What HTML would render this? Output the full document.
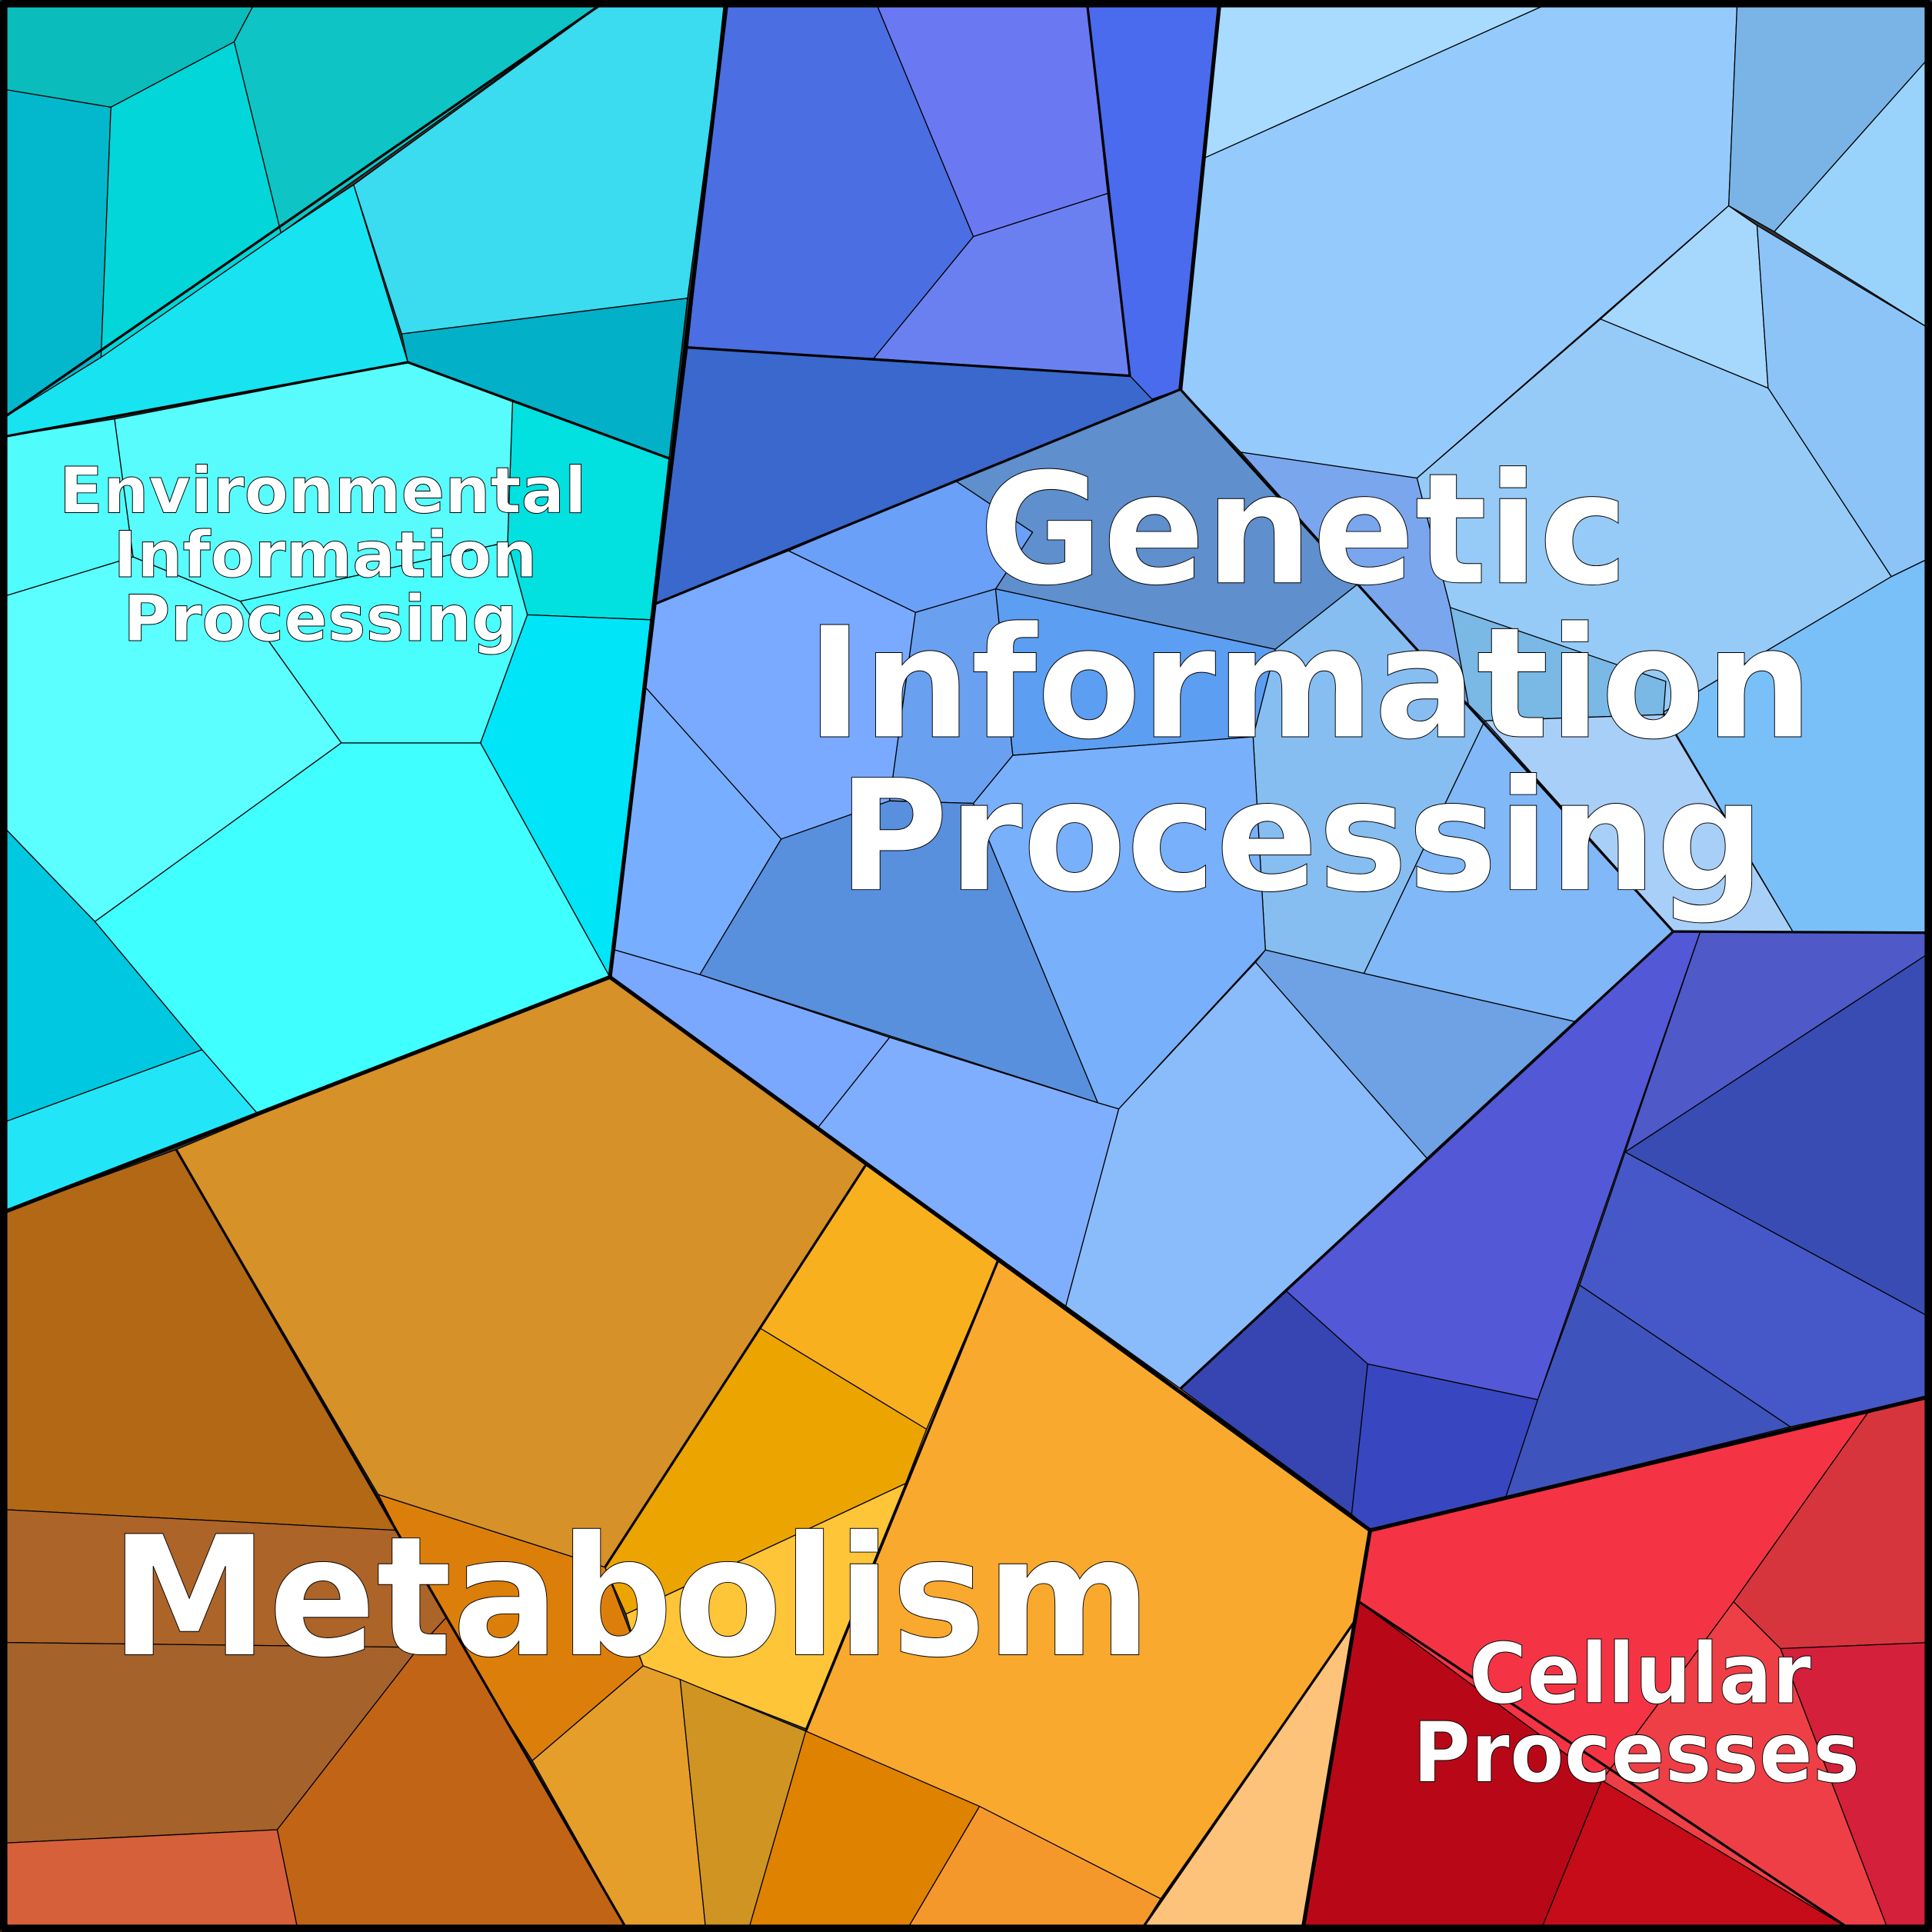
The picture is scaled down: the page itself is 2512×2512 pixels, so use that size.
<!DOCTYPE html>
<html><head><meta charset="utf-8"><style>html,body{margin:0;padding:0;background:#fff}svg{display:block}</style></head><body>
<svg xmlns="http://www.w3.org/2000/svg" width="2512" height="2512" viewBox="0 0 1568 1568">
<rect x="0" y="0" width="1568" height="1568" fill="#333"/>
<g stroke="#000" stroke-width="0.8" stroke-linejoin="round">
<!-- Environmental -->
<polygon fill="#0bbcbc" points="0,0 208,0 190,34 90,87 0,72"/>
<polygon fill="#0fc4c4" points="208,0 493,0 228,189 190,34"/>
<polygon fill="#03b8cc" points="0,72 90,87 82,290 0,341"/>
<polygon fill="#02d6d8" points="90,87 190,34 228,189 82,290"/>
<polygon fill="#3bdbf0" points="493,0 590,0 558,242 326,271 287,150"/>
<polygon fill="#18e3f0" points="0,341 82,290 228,189 287,150 331,294 0,355"/>
<polygon fill="#02b0c8" points="326,271 558,242 543,372 416,326 331,294"/>
<polygon fill="#02e0e0" points="416,326 543,372 528,503 428,499 412,440"/>
<polygon fill="#50fcfc" points="0,355 93,340 108,452 0,485"/>
<polygon fill="#58fcfc" points="93,340 331,294 416,326 412,440 195,488 108,452"/>
<polygon fill="#4afefe" points="195,488 412,440 428,499 390,603 277,603"/>
<polygon fill="#5cffff" points="0,485 108,452 195,488 277,603 77,748 0,668"/>
<polygon fill="#40ffff" points="277,603 390,603 495,793 210,905 164,852 77,748"/>
<polygon fill="#00e5f8" points="428,499 528,503 495,793 390,603"/>
<polygon fill="#00c8e0" points="0,668 77,748 164,852 0,912"/>
<polygon fill="#22e6f8" points="0,912 164,852 210,905 0,985"/>
<!-- Genetic top -->
<polygon fill="#4b6ee2" points="588,0 710,0 790,192 709,291 558,282"/>
<polygon fill="#6a78f2" points="710,0 882,0 899,157 790,192"/>
<polygon fill="#6b80f0" points="790,192 899,157 917,305 709,291"/>
<polygon fill="#4a6bee" points="882,0 990,0 958,316 935,324 917,305"/>
<polygon fill="#3a68cc" points="558,282 917,305 935,324 958,316 532,490"/>
<polygon fill="#a8dbff" points="990,0 1263,0 978,128"/>
<polygon fill="#94cbfc" points="978,128 1263,0 1410,0 1403,167 1150,388 1007,367 958,316"/>
<polygon fill="#7ab4e6" points="1410,0 1568,0 1568,44 1440,188 1403,167"/>
<polygon fill="#99d3fc" points="1568,44 1568,268 1440,188"/>
<polygon fill="#a6d7fc" points="1403,167 1426,183 1435,315 1299,259"/>
<polygon fill="#8cc4f8" points="1426,183 1568,268 1568,452 1535,468 1435,315"/>
<polygon fill="#96cbf8" points="1150,388 1299,259 1435,315 1535,468 1350,578 1177,493"/>
<polygon fill="#7ac0f8" points="1535,468 1568,452 1568,757 1455,756 1350,578"/>
<polygon fill="#5f8fcc" points="775,390 958,316 1102,474 1035,527 808,478 838,432"/>
<polygon fill="#7aa6ee" points="1007,367 1150,388 1177,493 1193,578 1180,560 1102,474"/>
<polygon fill="#7ab8e6" points="1177,493 1352,553 1350,580 1205,585 1193,578"/>
<polygon fill="#a8cff8" points="1205,585 1350,580 1455,756 1358,756"/>
<polygon fill="#7aaaff" points="532,490 640,447 743,497 722,650 634,681 524,558"/>
<polygon fill="#6aa0f8" points="640,447 775,390 838,432 808,478 743,497"/>
<polygon fill="#6aa0f0" points="743,497 808,478 822,613 790,652 722,650"/>
<polygon fill="#5c9ef2" points="808,478 1035,527 1017,598 822,613"/>
<polygon fill="#86bef2" points="1035,527 1102,474 1180,560 1205,585 1107,790 1027,771 1017,598"/>
<polygon fill="#78aeff" points="524,558 634,681 568,791 499,771"/>
<polygon fill="#5890dd" points="634,681 722,650 790,652 891,895 568,791"/>
<polygon fill="#78b0fc" points="790,652 822,613 1017,598 1027,771 908,900 891,895"/>
<polygon fill="#6ea2e4" points="1027,771 1107,790 1278,829 1158,940 1019,781"/>
<polygon fill="#80b8f8" points="1107,790 1205,585 1358,756 1278,829"/>
<polygon fill="#7aa8ff" points="499,771 568,791 722,842 664,915 495,793"/>
<polygon fill="#80aefe" points="722,842 891,895 908,900 865,1060 664,915"/>
<polygon fill="#8abbfb" points="908,900 1019,781 1158,940 958,1127 865,1060"/>
<!-- dark blue -->
<polygon fill="#5358d6" points="1358,756 1380,756 1248,1136 1110,1107 1043,1047"/>
<polygon fill="#4f5ac8" points="1380,756 1568,757 1568,772 1319,935"/>
<polygon fill="#394cb4" points="1568,772 1568,1070 1319,935"/>
<polygon fill="#4658c8" points="1319,935 1568,1070 1568,1133 1453,1158 1282,1043"/>
<polygon fill="#3f53bc" points="1282,1043 1453,1158 1222,1215 1248,1136"/>
<polygon fill="#3645b2" points="1043,1047 1110,1107 1097,1229 958,1127"/>
<polygon fill="#3847c0" points="1110,1107 1248,1136 1222,1215 1112,1242 1097,1229"/>
<!-- Metabolism -->
<polygon fill="#b26815" points="0,985 143,933 322,1242 0,1225"/>
<polygon fill="#d69128" points="143,933 210,905 495,793 703,945 617,1078 491,1272 307,1213"/>
<polygon fill="#f8b01e" points="703,945 810,1023 752,1160 617,1078"/>
<polygon fill="#eca400" points="617,1078 752,1160 735,1204 508,1310 491,1272"/>
<polygon fill="#f9a92e" points="810,1023 958,1127 1112,1242 1100,1315 942,1541 654,1405 735,1204 752,1160"/>
<polygon fill="#fec538" points="508,1310 735,1204 654,1403 522,1352 514,1330"/>
<polygon fill="#dc7f0a" points="307,1213 491,1272 522,1352 432,1429 360,1315"/>
<polygon fill="#ad6428" points="0,1225 322,1242 362,1313 340,1337 0,1333"/>
<polygon fill="#a5622a" points="0,1333 340,1337 225,1485 0,1496"/>
<polygon fill="#c26416" points="340,1337 362,1313 510,1568 242,1568 225,1485"/>
<polygon fill="#d6603a" points="0,1496 225,1485 242,1568 0,1568"/>
<polygon fill="#e59e2a" points="432,1429 522,1352 552,1363 573,1568 510,1568"/>
<polygon fill="#cf9422" points="552,1363 654,1405 607,1568 573,1568"/>
<polygon fill="#df8200" points="654,1405 795,1466 735,1568 607,1568"/>
<polygon fill="#f4982c" points="795,1466 942,1541 925,1568 735,1568"/>
<polygon fill="#fdc37a" points="1100,1315 1057,1568 925,1568"/>
<!-- Cellular -->
<polygon fill="#f43444" points="1112,1242 1517,1145 1407,1300 1331,1403 1300,1445 1103,1300"/>
<polygon fill="#d7353e" points="1517,1145 1568,1133 1568,1333 1445,1338 1407,1300"/>
<polygon fill="#d4203a" points="1445,1338 1568,1333 1568,1568 1533,1568"/>
<polygon fill="#ee3f46" points="1407,1300 1445,1338 1533,1568 1505,1568 1300,1445 1331,1403"/>
<polygon fill="#b80818" points="1103,1300 1300,1445 1250,1568 1057,1568"/>
<polygon fill="#c50c18" points="1300,1445 1505,1568 1250,1568"/>
</g>
<g fill="none" stroke="#000" stroke-linejoin="round">
<polyline stroke-width="2" points="0,341 493,0"/>
<polyline stroke-width="2" points="0,355 331,294 543,372"/>
<polyline stroke-width="2" points="558,282 917,305 882,0"/>
<polyline stroke-width="2" points="532,490 958,316 1358,756 958,1127"/>
<polyline stroke-width="2" points="1358,756 1568,757"/>
<polyline stroke-width="2" points="143,933 510,1568"/>
<polyline stroke-width="2" points="703,945 491,1272"/>
<polyline stroke-width="2" points="810,1023 654,1405"/>
<polyline stroke-width="2" points="1100,1315 925,1568"/>
<polyline stroke-width="2" points="1103,1300 1505,1568"/>
<polyline stroke-width="3.2" points="590,0 495,793 0,985"/>
<polyline stroke-width="3.2" points="990,0 958,316"/>
<polyline stroke-width="3.2" points="495,793 1112,1242 1568,1133"/>
<polyline stroke-width="3.2" points="1112,1242 1057,1568"/>
<rect x="3" y="3" width="1562" height="1562" stroke-width="6"/>
</g>
<g fill="#fff" stroke="#000" stroke-width="0.6" font-family="'DejaVu Sans','Liberation Sans',sans-serif" font-weight="bold" text-anchor="middle">
<text x="262" y="416" font-size="52" textLength="428" lengthAdjust="spacingAndGlyphs">Environmental</text>
<text x="264" y="468" font-size="52" textLength="344" lengthAdjust="spacingAndGlyphs">Information</text>
<text x="260" y="520" font-size="52" textLength="320" lengthAdjust="spacingAndGlyphs">Processing</text>
<text x="1058" y="473" font-size="125" textLength="527" lengthAdjust="spacingAndGlyphs">Genetic</text>
<text x="1063" y="598" font-size="125" textLength="817" lengthAdjust="spacingAndGlyphs">Information</text>
<text x="1056" y="722" font-size="125" textLength="752" lengthAdjust="spacingAndGlyphs">Processing</text>
<text x="512" y="1343" font-size="135" textLength="845" lengthAdjust="spacingAndGlyphs">Metabolism</text>
<text x="1331" y="1382" font-size="68" textLength="278" lengthAdjust="spacingAndGlyphs">Cellular</text>
<text x="1328" y="1446" font-size="68" textLength="363" lengthAdjust="spacingAndGlyphs">Processes</text>
</g>
</svg>
</body></html>
